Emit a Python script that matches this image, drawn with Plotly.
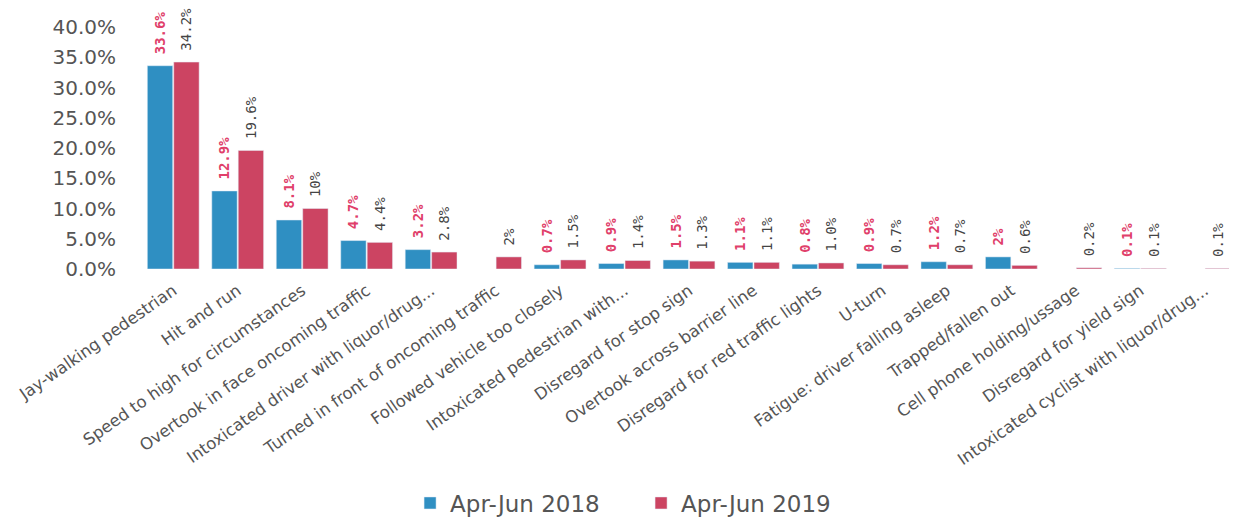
import plotly.graph_objects as go

categories = [
    "Jay-walking pedestrian",
    "Hit and run",
    "Speed to high for circumstances",
    "Overtook in face oncoming traffic",
    "Intoxicated driver with liquor/drug...",
    "Turned in front of oncoming traffic",
    "Followed vehicle too closely",
    "Intoxicated pedestrian with...",
    "Disregard for stop sign",
    "Overtook across barrier line",
    "Disregard for red traffic lights",
    "U-turn",
    "Fatigue: driver falling asleep",
    "Trapped/fallen out",
    "Cell phone holding/ussage",
    "Disregard for yield sign",
    "Intoxicated cyclist with liquor/drug...",
]

vals_2018 = [33.6, 12.9, 8.1, 4.7, 3.2, None, 0.7, 0.9, 1.5, 1.1, 0.8, 0.9, 1.2, 2.0, None, 0.1, None]
vals_2019 = [34.2, 19.6, 10.0, 4.4, 2.8, 2.0, 1.5, 1.4, 1.3, 1.1, 1.0, 0.7, 0.7, 0.6, 0.2, 0.1, 0.1]

labels_2018 = ["33.6%", "12.9%", "8.1%", "4.7%", "3.2%", "", "0.7%", "0.9%", "1.5%", "1.1%",
               "0.8%", "0.9%", "1.2%", "2%", "", "0.1%", ""]
labels_2019 = ["34.2%", "19.6%", "10%", "4.4%", "2.8%", "2%", "1.5%", "1.4%", "1.3%", "1.1%",
               "1.0%", "0.7%", "0.7%", "0.6%", "0.2%", "0.1%", "0.1%"]

y_ticks = [0, 5, 10, 15, 20, 25, 30, 35, 40]
y_tick_labels = ["0.0%", "5.0%", "10.0%", "15.0%", "20.0%", "25.0%", "30.0%", "35.0%", "40.0%"]

fig = go.Figure()
fig.add_trace(go.Bar(
    name="Apr-Jun 2018", x=categories, y=vals_2018, text=labels_2018,
    texttemplate="\u00a0%{text}",
    marker_color="#2f8fc2",
    textposition="outside", textangle=-90, constraintext="none", cliponaxis=False,
    textfont=dict(family="DejaVu Sans Mono", size=14, color="#e0406a", weight="bold"),
))
fig.add_trace(go.Bar(
    name="Apr-Jun 2019", x=categories, y=vals_2019, text=labels_2019,
    texttemplate="\u00a0%{text}",
    marker_color="#cc4462",
    textposition="outside", textangle=-90, constraintext="none", cliponaxis=False,
    textfont=dict(family="DejaVu Sans Mono", size=14, color="#444444"),
))

fig.update_layout(
    width=1237, height=525,
    margin=dict(l=133, r=8, t=19, b=259),
    paper_bgcolor="white", plot_bgcolor="white",
    barmode="group", bargap=0.18, bargroupgap=0.04,
    font=dict(family="DejaVu Sans", color="#555555"),
    showlegend=True,
    legend=dict(orientation="h", x=0.2455, xanchor="left", y=-0.967, yanchor="middle",
                entrywidth=186, entrywidthmode="pixels",
                font=dict(size=23, color="#555555"), itemwidth=30, traceorder="normal"),
)
fig.update_yaxes(range=[0, 40], tickvals=y_ticks, ticktext=y_tick_labels,
                 showgrid=False, zeroline=False, showline=False, automargin=False,
                 ticklabelstandoff=24,
                 tickfont=dict(size=20, color="#555555"))
fig.update_xaxes(tickangle=-35, showgrid=False, showline=False, automargin=False,
                 ticklabelstandoff=8,
                 tickfont=dict(size=16.5, color="#555555"))

fig.write_html("out.html")
